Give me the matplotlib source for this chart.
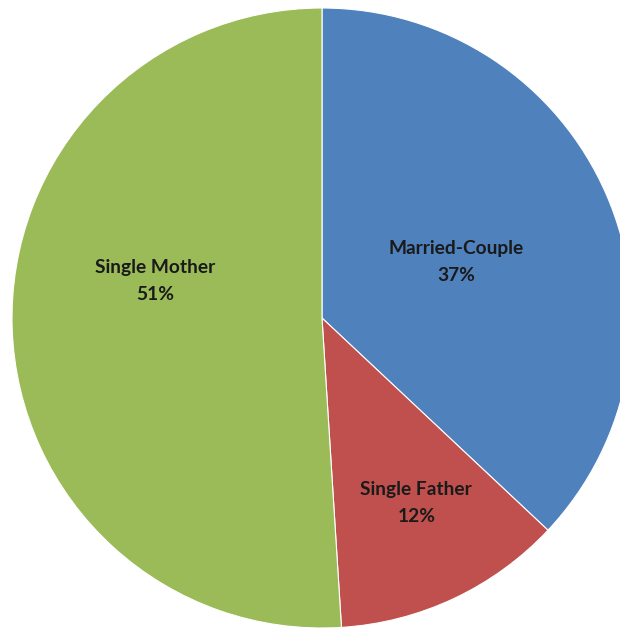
import numpy as np
import matplotlib.pyplot as plt

labels = ['Married-Couple', 'Single Father', 'Single Mother']
shares = [37, 12, 51]
colors = ['#4F81BD', '#C0504D', '#9BBB59']

# label spots (fraction of radius, angle in degrees) picked to match the original
label_spots = [(0.47, 22.7), (0.67, -63.0), (0.55, 167.5)]

fig = plt.figure(figsize=(6.2, 6.29), dpi=100)
ax = fig.add_axes([12 / 620, 1 / 629, 620 / 620, 620 / 629])

wedges, _ = ax.pie(shares, colors=colors, startangle=90, counterclock=False,
                   radius=1.0, wedgeprops=dict(edgecolor='white', linewidth=0.8))

for lab, val, (r, ang) in zip(labels, shares, label_spots):
    a = np.deg2rad(ang)
    ax.text(r * np.cos(a), r * np.sin(a), f'{lab}\n{val}%', ha='center', va='center',
            fontsize=13.8, fontweight='bold', family=['Lato', 'DejaVu Sans'],
            color='#1a1a1a', linespacing=1.7)

ax.set_xlim(-1, 1)
ax.set_ylim(-1, 1)
ax.set_aspect('equal')
ax.axis('off')

fig.savefig('out.png', dpi=100)
